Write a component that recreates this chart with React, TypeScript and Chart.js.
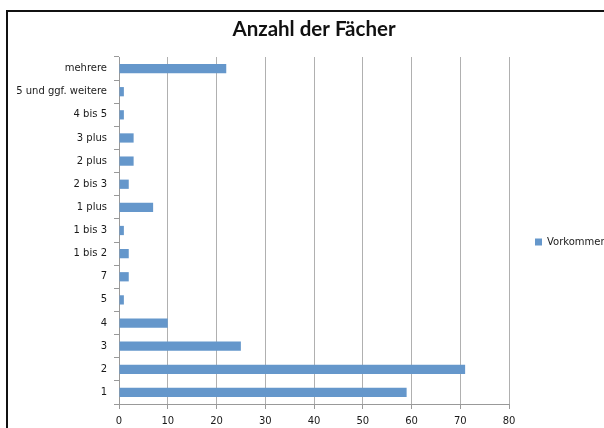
import React, { useEffect, useRef } from "react";
import { Chart, registerables } from "chart.js";

Chart.register(...registerables);

const categories = [
  "mehrere",
  "5 und ggf. weitere",
  "4 bis 5",
  "3 plus",
  "2 plus",
  "2 bis 3",
  "1 plus",
  "1 bis 3",
  "1 bis 2",
  "7",
  "5",
  "4",
  "3",
  "2",
  "1",
];
const vorkommen = [22, 1, 1, 3, 3, 2, 7, 1, 2, 2, 1, 10, 25, 71, 59];
const seriesName = "Vorkommen";
const chartTitle = "Anzahl der Fächer";
const xMin = 0;
const xMax = 80;
const xStep = 10;

const labelFont = { family: "DejaVu Sans", size: 10 };

export default function App() {
  const ref = useRef<HTMLCanvasElement | null>(null);

  useEffect(() => {
    if (!ref.current) return;
    const chart = new Chart(ref.current, {
      type: "bar",
      data: {
        labels: categories,
        datasets: [
          {
            label: seriesName,
            data: vorkommen,
            backgroundColor: "#6597cb",
            borderWidth: 0,
            categoryPercentage: 1,
            barPercentage: 0.4,
          },
        ],
      },
      options: {
        indexAxis: "y",
        animation: false,
        responsive: false,
        maintainAspectRatio: false,
        devicePixelRatio: 1,
        layout: { padding: 0 },
        plugins: {
          title: {
            display: true,
            fullSize: false,
            text: chartTitle,
            color: "#111",
            font: { family: "Lato", size: 20.5, weight: "bold" },
            padding: { top: 17.2, bottom: 15.2 },
          },
          legend: {
            display: true,
            position: "right",
            fullSize: false,
            maxWidth: 95,
            title: {
              display: true,
              text: " ",
              font: { size: 10 },
              padding: { top: 11, bottom: 0 },
            },
            labels: {
              boxWidth: 7,
              boxHeight: 7,
              padding: 26,
              color: "#1a1a1a",
              font: labelFont,
            },
          },
          tooltip: { enabled: false },
        },
        scales: {
          x: {
            type: "linear",
            min: xMin,
            max: xMax,
            ticks: {
              stepSize: xStep,
              color: "#1a1a1a",
              font: labelFont,
              padding: 6,
            },
            grid: {
              color: "#b0b0b0",
              tickColor: "#999",
              tickLength: 5,
            },
            border: { color: "#999" },
            afterFit: (scale: any) => {
              scale.height = 24;
            },
          },
          y: {
            type: "category",
            ticks: {
              color: "#1a1a1a",
              font: labelFont,
              padding: 7,
              autoSkip: false,
            },
            grid: {
              display: true,
              drawOnChartArea: false,
              offset: true,
              tickLength: 5,
              tickColor: "#999",
            },
            border: { color: "#999" },
            afterFit: (scale: any) => {
              scale.width = 119;
            },
          },
        },
      },
    });
    return () => chart.destroy();
  }, []);

  return (
    <div
      style={{
        position: "fixed",
        left: 0,
        top: 0,
        width: 604,
        height: 428,
        overflow: "hidden",
        background: "#fff",
      }}
    >
      <div
        style={{
          position: "absolute",
          left: 6,
          top: 10,
          width: 700,
          height: 500,
          borderLeft: "2px solid #111",
          borderTop: "2px solid #111",
        }}
      />
      <canvas
        ref={ref}
        width={604}
        height={428}
        style={{ position: "absolute", left: 0, top: 0, width: 604, height: 428 }}
      />
    </div>
  );
}
